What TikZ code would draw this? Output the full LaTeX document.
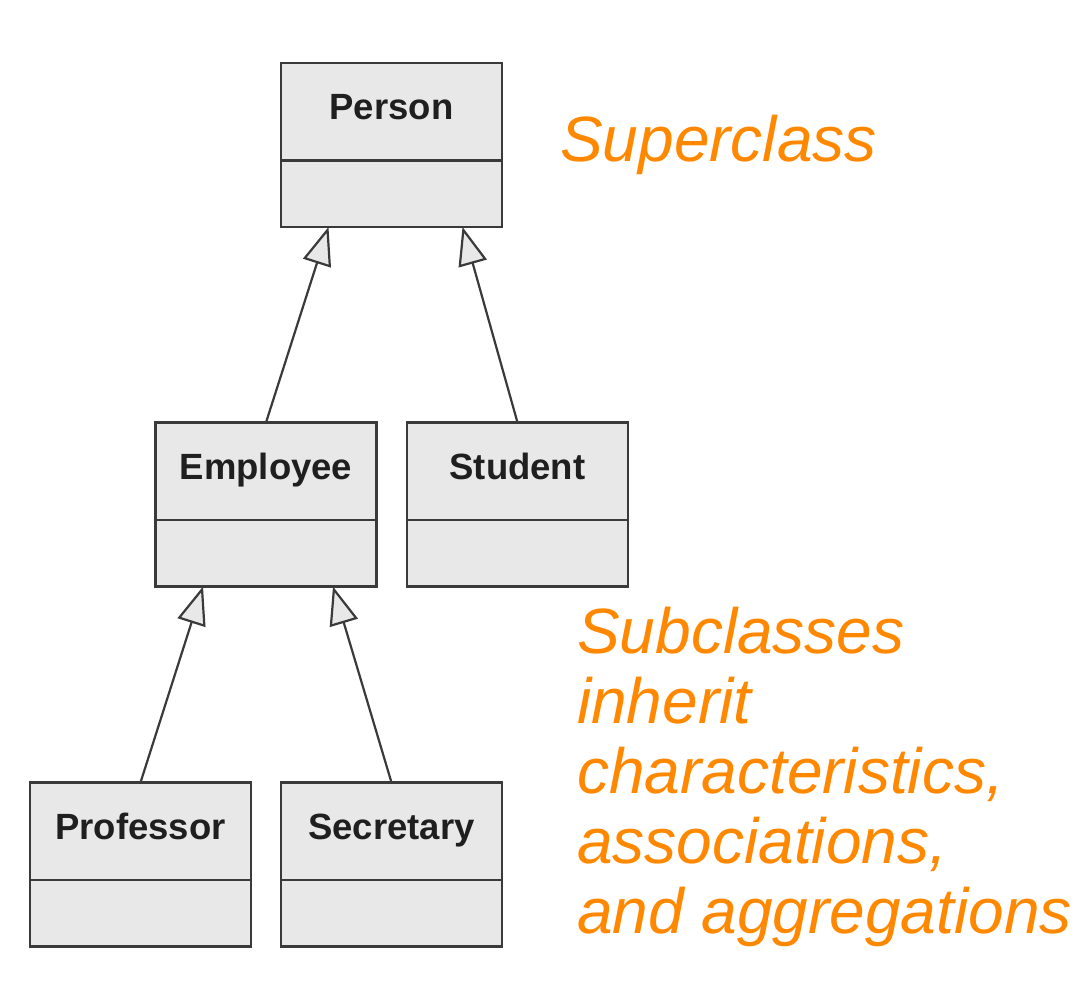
\documentclass[tikz,border=0pt]{standalone}
\usepackage{fontspec}
\setmainfont{Liberation Sans}
\usetikzlibrary{arrows.meta,calc}
\definecolor{boxfill}{HTML}{E8E8E8}
\definecolor{boxline}{HTML}{3A3A3A}
\definecolor{orangetxt}{HTML}{FF8800}
\tikzset{
  umlbox/.style={draw=boxline, fill=boxfill, line width=2.6pt, minimum width=221pt, minimum height=164pt, inner sep=0pt, outer sep=0pt},
  lbl/.style={font=\fontsize{36.5}{40}\selectfont\bfseries, text=black!88, anchor=base, inner sep=0pt},
  inh/.style={draw=boxline, line width=2.2pt, -{Triangle[length=38pt,width=29pt,fill=boxfill,line width=2.2pt]}},
  note/.style={font=\fontsize{64}{70}\selectfont\itshape, text=orangetxt, align=left, inner sep=0pt, anchor=north west}
}
\begin{document}
\begin{tikzpicture}[x=1pt,y=-1pt]
\useasboundingbox (0,0) rectangle (1092,992);
% boxes
\node[umlbox] (p) at (391.5,145) {};
\node[umlbox] (e) at (266,504.5) {};
\node[umlbox] (s) at (517.5,504.5) {};
\node[umlbox] (pr) at (140.5,864.5) {};
\node[umlbox] (se) at (391.5,864.5) {};
% dividers and labels
\foreach \b/\t in {p/Person,e/Employee,s/Student,pr/Professor,se/Secretary}{
  \draw[boxline, line width=2.2pt] ($(\b.north west)!0.595!(\b.south west)$) -- ($(\b.north east)!0.595!(\b.south east)$);
  \node[lbl] (\b l) at ($(\b.north)+(0,57)$) {\t};
}
% inheritance
\draw[inh] (e.north) -- ([xshift=-63pt]p.south);
\draw[inh] (s.north) -- ([xshift=71pt]p.south);
\draw[inh] (pr.north) -- ([xshift=-63pt]e.south);
\draw[inh] (se.north) -- ([xshift=67pt]e.south);
% notes
\node[note] (sup) at (560,115) {Superclass};
\node[note] (sub) at (577,607) {Subclasses\\inherit\\characteristics,\\associations,\\and aggregations};
\end{tikzpicture}
\end{document}
